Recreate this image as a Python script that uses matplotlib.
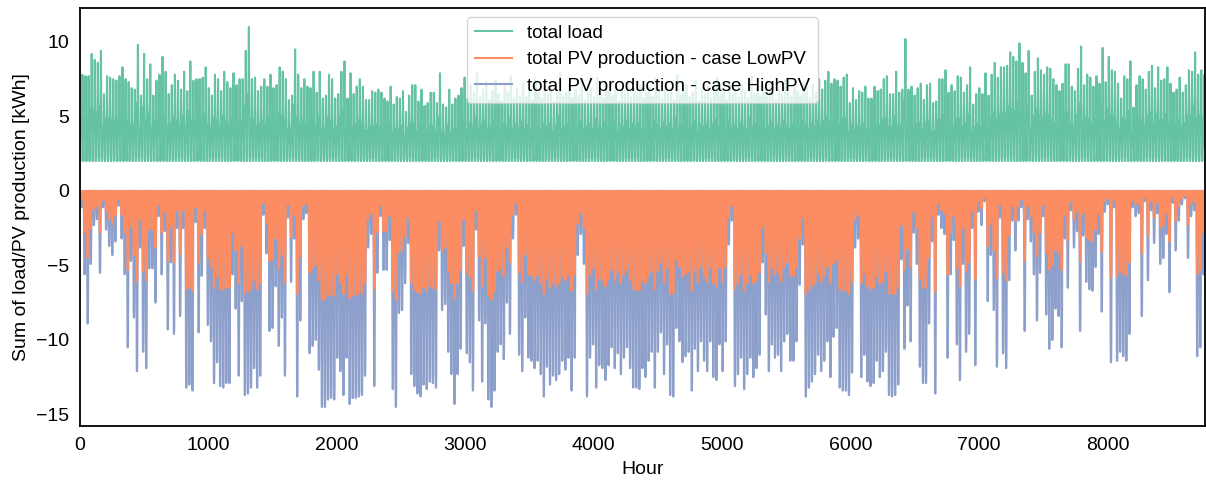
import numpy as np
import matplotlib
matplotlib.use("Agg")
import matplotlib.pyplot as plt
from matplotlib.lines import Line2D

# daily maxima (kWh), one value per day of the year
load_peak = [
    # days 0-60
    7.8, 7.7, 7.7, 9.2, 8.8, 8.6, 9.4, 6.5, 7.7, 7.6,
    7.5, 7.4, 7.7, 8.3, 7.5, 7.3, 6.9, 6.8, 9.8, 6.4,
    9.2, 7.5, 8.5, 6.4, 7.4, 7.8, 9.0, 8.0, 6.5, 7.1,
    7.8, 7.4, 6.8, 8.0, 6.7, 8.7, 7.4, 7.5, 7.5, 7.6,
    8.3, 6.9, 6.4, 7.8, 7.5, 6.7, 8.0, 7.3, 6.9, 7.9,
    7.1, 7.5, 7.5, 9.4, 11.0, 7.5, 7.6, 6.7, 7.0, 7.5,
    7.0,
    # days 61-121
    7.8, 6.9, 7.1, 8.3, 8.0, 7.5, 6.1, 6.4, 9.5, 7.8,
    6.9, 7.5, 7.0, 6.9, 8.0, 6.6, 8.0, 6.2, 6.4, 7.8,
    7.5, 6.2, 6.5, 8.0, 8.7, 6.2, 7.9, 6.5, 7.0, 7.5,
    7.0, 6.1, 6.1, 6.7, 6.6, 6.8, 6.6, 6.2, 6.0, 7.0,
    5.8, 6.3, 6.2, 6.7, 5.3, 6.4, 7.1, 7.1, 6.0, 6.8,
    5.7, 5.9, 6.6, 6.6, 5.9, 7.9, 5.8, 5.6, 6.8, 5.8,
    6.2,
    # days 122-182
    6.4, 6.9, 7.6, 6.2, 7.1, 6.6, 7.9, 6.3, 6.8, 7.3,
    6.1, 6.7, 7.4, 6.5, 6.0, 7.0, 6.6, 7.7, 6.2, 6.9,
    6.4, 7.2, 6.3, 6.8, 6.1, 7.5, 6.6, 6.2, 7.0, 6.5,
    6.9, 6.0, 6.7, 8.0, 6.3, 6.6, 7.1, 6.2, 6.8, 6.4,
    7.3, 6.1, 6.6, 6.9, 6.3, 7.6, 6.5, 6.2, 7.0, 6.7,
    6.4, 7.2, 6.0, 6.8, 6.5, 7.4, 6.3, 6.9, 6.6, 7.1,
    6.2,
    # days 183-243
    6.6, 7.0, 6.3, 7.5, 6.8, 6.2, 7.2, 6.5, 6.9, 6.1,
    7.8, 6.4, 6.7, 7.1, 6.3, 6.6, 7.4, 6.0, 6.8, 6.5,
    7.0, 6.2, 6.9, 7.6, 6.4, 6.7, 6.1, 7.3, 6.5, 6.8,
    6.3, 7.1, 6.6, 6.2, 7.7, 6.5, 6.9, 6.4, 7.0, 6.3,
    6.7, 7.2, 6.1, 6.8, 6.5, 7.4, 6.6, 6.3, 7.0, 6.7,
    6.4, 7.3, 6.9, 6.2, 7.1, 6.6, 7.5, 6.8, 7.4, 8.0,
    7.2,
    # days 244-303
    7.5, 7.4, 7.0, 7.6, 7.8, 5.9, 6.9, 6.1, 6.7, 6.6,
    7.0, 6.2, 6.2, 7.0, 6.7, 6.8, 7.5, 7.7, 6.5, 6.5,
    8.0, 6.6, 6.8, 10.2, 6.8, 7.0, 6.4, 6.9, 7.2, 6.1,
    7.1, 7.2, 5.9, 6.0, 7.5, 7.5, 8.1, 6.6, 7.1, 6.7,
    7.7, 7.6, 6.6, 7.1, 8.3, 5.8, 6.5, 6.9, 6.5, 7.9,
    6.4, 7.8, 8.6, 7.6, 8.3, 8.3, 8.4, 9.3, 9.0, 8.7,
    # days 304-364
    9.9, 8.6, 7.9, 9.4, 6.4, 8.0, 8.9, 8.1, 7.8,
    8.3, 8.2, 7.5, 7.1, 6.7, 7.2, 8.5, 8.5, 7.0, 6.7,
    8.2, 9.7, 7.1, 7.8, 7.6, 7.0, 7.7, 7.2, 9.6,
    7.3, 9.0, 8.1, 8.0, 7.2, 6.2, 7.7, 7.5, 8.7, 5.6,
    7.1, 7.7, 7.5, 6.8, 8.0, 8.4, 6.9, 8.3, 7.4,
    7.5, 8.3, 7.2, 6.6, 6.8, 7.6, 6.6, 7.1, 8.1, 8.0,
    9.3, 7.8, 8.1, 7.8,
]

pv_high_peak = [
    # days 0-60
    -1.1, -5.6, -8.9, -4.9, -2.3, -1.9, -5.5, -1.1, -2.6, -3.7,
    -4.3, -3.4, -1.0, -3.2, -5.6, -10.5, -4.7, -8.5, -12.1, -3.8,
    -10.8, -11.9, -5.2, -5.2, -7.5, -1.7, -5.6, -2.7, -9.3, -4.8,
    -9.6, -2.5, -8.4, -2.5, -13.2, -13.0, -13.4, -2.1, -9.5, -5.7,
    -2.5, -9.0, -10.1, -12.9, -11.5, -13.1, -13.2, -12.9, -12.9, -5.6,
    -7.9, -12.4, -7.4, -13.7, -13.6, -13.2, -11.9, -13.2, -12.4, -1.6,
    -4.2,
    # days 61-121
    -9.4, -9.2, -6.4, -10.4, -8.5, -12.4, -1.8, -6.1, -3.2, -13.8,
    -8.7, -1.9, -1.5, -10.9, -10.4, -10.0, -12.0, -14.5, -14.5, -14.0,
    -13.9, -14.0, -11.2, -12.1, -13.7, -11.2, -14.3, -13.9, -13.9, -13.8,
    -13.7, -12.4, -3.8, -2.9, -13.1, -5.5, -1.7, -5.3, -5.3, -3.3,
    -13.3, -14.5, -8.2, -8.0, -6.2, -3.5, -12.3, -13.1, -13.6, -13.8,
    -13.0, -13.3, -12.8, -12.9, -13.2, -4.0, -8.0, -7.6, -10.8, -12.3,
    -14.3,
    # days 122-182
    -12.3, -10.6, -3.7, -10.9, -11.5, -13.4, -2.6, -8.7, -12.8, -8.9,
    -14.0, -14.5, -13.4, -10.8, -10.3, -11.3, -7.5, -9.6, -3.2, -1.6,
    -11.0, -12.1, -8.5, -11.2, -11.4, -11.9, -11.4, -12.3, -13.8, -11.8,
    -13.0, -12.4, -12.7, -12.3, -11.4, -12.0, -11.2, -13.4, -11.2, -4.3,
    -2.9, -4.9, -13.8, -11.2, -10.3, -13.2, -11.7, -11.9, -12.7, -11.7,
    -10.5, -11.9, -10.9, -12.3, -11.2, -10.5, -11.9, -13.2, -13.2, -13.3,
    -11.9,
    # days 183-243
    -12.5, -11.4, -10.8, -13.2, -10.8, -9.5, -12.3, -10.3, -13.7, -13.8,
    -9.2, -10.1, -11.5, -11.1, -10.8, -13.4, -10.6, -12.1, -10.1, -11.4,
    -12.1, -10.1, -12.5, -12.7, -10.3, -12.1, -10.1, -3.6, -2.0, -13.1,
    -12.3, -11.2, -13.3, -12.3, -11.2, -12.5, -11.9, -11.0, -4.8,
    -8.3, -12.1, -10.3, -11.2, -11.0, -12.1, -10.1, -9.6, -11.4, -11.4,
    -10.1, -6.3, -3.6, -13.8, -13.2, -12.8, -12.3, -11.0, -12.1, -11.4,
    -10.1, -12.5,
    # days 244-303
    -9.8, -9.2, -13.2, -13.4, -13.4, -13.7, -12.2, -3.8, -3.2,
    -12.5, -11.0, -12.8, -13.1, -12.9, -11.4, -12.5, -12.1, -10.8, -13.7,
    -13.8, -13.7, -13.0, -4.6, -10.6, -7.7, -10.1, -2.8, -4.9, -11.8,
    -12.9, -12.9, -8.9, -3.4, -13.6, -1.6, -2.5, -2.9, -11.2, -5.6,
    -3.3, -10.3, -12.7, -4.9, -10.8, -9.6, -2.5, -11.7, -1.4, -2.3,
    -0.7, -7.4, -4.3, -8.0, -11.8, -1.8, -10.9, -11.9, -6.0, -2.0,
    -4.0,
    # days 304-364
    -2.0, -1.1, -9.4, -1.9, -3.4, -5.6, -8.7, -5.5,
    -1.7, -8.3, -10.6, -10.0, -7.9, -8.4, -10.5, -3.2, -6.5, -1.3,
    -3.8, -2.7, -9.4, -3.0, -6.1, -6.6, -6.7, -5.1, -2.9, -8.1,
    -1.4, -0.9, -11.5, -1.1, -11.4, -10.8, -11.1, -11.4, -9.6, -1.1,
    -1.7, -1.5, -8.4, -0.7, -6.0, -1.3, -3.5, -1.5, -4.9, -4.5,
    -2.9, -6.8, -0.8, -4.0, -2.0, -0.9, -0.5, -4.5, -1.7, -1.3,
    -11.1, -10.5, -5.6,
]

pv_low_peak = [
    # days 0-60
    -0.6, -2.8, -4.5, -2.5, -1.2, -1.0, -2.8, -0.6, -1.3, -1.9,
    -2.2, -1.7, -0.5, -1.6, -2.8, -5.3, -2.4, -4.3, -6.1, -1.9,
    -5.4, -6.0, -2.6, -2.6, -3.8, -0.9, -2.8, -1.4, -4.7, -2.4,
    -4.8, -1.3, -4.2, -1.3, -6.6, -6.5, -6.7, -1.1, -4.8, -2.9,
    -1.3, -4.5, -5.1, -6.5, -5.8, -6.6, -6.6, -6.5, -6.5, -2.8,
    -4.0, -6.2, -3.7, -6.9, -6.8, -6.6, -6.0, -6.6, -6.2, -0.8,
    -2.1,
    # days 61-121
    -4.7, -4.6, -3.2, -5.2, -4.3, -6.2, -0.9, -3.1, -1.6, -6.9,
    -4.4, -1.0, -0.8, -5.5, -5.2, -5.0, -6.0, -7.3, -7.3, -7.0,
    -7.0, -7.0, -5.6, -6.1, -6.9, -5.6, -7.2, -7.0, -7.0, -6.9,
    -6.9, -6.2, -1.9, -1.5, -6.6, -2.8, -0.9, -2.7, -2.7, -1.7,
    -6.7, -7.3, -4.1, -4.0, -3.1, -1.8, -6.2, -6.6, -6.8, -6.9,
    -6.5, -6.7, -6.4, -6.5, -6.6, -2.0, -4.0, -3.8, -5.4, -6.2,
    -7.2,
    # days 122-182
    -6.2, -5.3, -1.9, -5.5, -5.8, -6.7, -1.3, -4.4, -6.4, -4.5,
    -7.0, -7.3, -6.7, -5.4, -5.2, -5.7, -3.8, -4.8, -1.6, -0.8,
    -5.5, -6.1, -4.3, -5.6, -5.7, -6.0, -5.7, -6.2, -6.9, -5.9,
    -6.5, -6.2, -6.4, -6.2, -5.7, -6.0, -5.6, -6.7, -5.6, -2.2,
    -1.5, -2.5, -6.9, -5.6, -5.2, -6.6, -5.9, -6.0, -6.4, -5.9,
    -5.3, -6.0, -5.5, -6.2, -5.6, -5.3, -6.0, -6.6, -6.6, -6.7,
    -6.0,
    # days 183-243
    -6.2, -5.7, -5.4, -6.6, -5.4, -4.8, -6.2, -5.2, -6.9, -6.9,
    -4.6, -5.1, -5.8, -5.6, -5.4, -6.7, -5.3, -6.1, -5.1, -5.7,
    -6.1, -5.1, -6.2, -6.4, -5.2, -6.1, -5.1, -1.8, -1.0, -6.6,
    -6.2, -5.6, -6.7, -6.2, -5.6, -6.2, -6.0, -5.5, -2.4,
    -4.2, -6.1, -5.2, -5.6, -5.5, -6.1, -5.1, -4.8, -5.7, -5.7,
    -5.1, -3.2, -1.8, -6.9, -6.6, -6.4, -6.2, -5.5, -6.1, -5.7,
    -5.1, -6.2,
    # days 244-303
    -4.9, -4.6, -6.6, -6.7, -6.7, -6.9, -6.1, -1.9, -1.6,
    -6.2, -5.5, -6.4, -6.6, -6.5, -5.7, -6.2, -6.1, -5.4, -6.9,
    -6.9, -6.9, -6.5, -2.3, -5.3, -3.9, -5.1, -1.4, -2.5, -5.9,
    -6.5, -6.5, -4.5, -1.7, -6.8, -0.8, -1.3, -1.5, -5.6, -2.8,
    -1.7, -5.2, -6.4, -2.5, -5.4, -4.8, -1.3, -5.9, -0.7, -1.2,
    -0.4, -3.7, -2.2, -4.0, -5.9, -0.9, -5.5, -6.0, -3.0, -1.0,
    -2.0,
    # days 304-364
    -1.0, -0.6, -4.7, -1.0, -1.7, -2.8, -4.4, -2.8,
    -0.9, -4.2, -5.3, -5.0, -4.0, -4.2, -5.3, -1.6, -3.3, -0.7,
    -1.9, -1.4, -4.7, -1.5, -3.1, -3.3, -3.4, -2.6, -1.5, -4.1,
    -0.7, -0.5, -5.8, -0.6, -5.7, -5.4, -5.6, -5.7, -4.8, -0.6,
    -0.9, -0.8, -4.2, -0.4, -3.0, -0.7, -1.8, -0.8, -2.5, -2.3,
    -1.5, -3.4, -0.4, -2.0, -1.0, -0.5, -0.3, -2.3, -0.9, -0.7,
    -5.6, -5.3, -2.8,
]

# night-time base load and typical shape of a day (fraction of the daily peak)
load_base = 2.0
load_shape = [0.05, 0.02, 0.0, 0.0, 0.01, 0.05, 0.25, 0.5, 0.45, 0.35, 0.3, 0.38,
              0.42, 0.35, 0.3, 0.33, 0.45, 0.65, 0.85, 1.0, 0.8, 0.55, 0.3, 0.15]
pv_shape = [0, 0, 0, 0, 0, 0.02, 0.15, 0.4, 0.7, 0.9, 0.98, 1.0,
            1.0, 0.99, 0.94, 0.8, 0.55, 0.28, 0.08, 0.01, 0, 0, 0, 0]

labels = ["total load", "total PV production - case LowPV", "total PV production - case HighPV"]
colors = ["#66c2a5", "#fc8d62", "#8da0cb"]

# hourly series
load = (load_base + (np.array(load_peak)[:, None] - load_base) * np.array(load_shape)[None, :]).ravel()
pv_high = (np.array(pv_high_peak)[:, None] * np.array(pv_shape)[None, :]).ravel()
pv_low = (np.array(pv_low_peak)[:, None] * np.array(pv_shape)[None, :]).ravel()
hours = np.arange(len(load))

plt.rcParams["font.family"] = ["Liberation Sans", "DejaVu Sans"]
plt.rcParams["font.size"] = 14

fig = plt.figure(figsize=(12.06, 4.83), dpi=100)
ax = fig.add_axes([80 / 1206, 1 - 426 / 483, 1125 / 1206, 418 / 483])

ax.plot(hours, load, color=colors[0], lw=1.5)
ax.plot(hours, pv_high, color=colors[2], lw=1.5)
ax.plot(hours, pv_low, color=colors[1], lw=1.5)

ax.set_xlim(0, 8760)
ax.set_xlabel("Hour", labelpad=5)
ax.set_ylabel("Sum of load/PV production [kWh]")
ax.tick_params(length=0, pad=8)
for s in ax.spines.values():
    s.set_color("black")
    s.set_linewidth(1.3)

handles = [Line2D([], [], color=c, lw=1.5) for c in colors]
ax.legend(handles, labels, loc="upper center", framealpha=0.8, fontsize=13.5)

fig.savefig("out.png", dpi=100)
